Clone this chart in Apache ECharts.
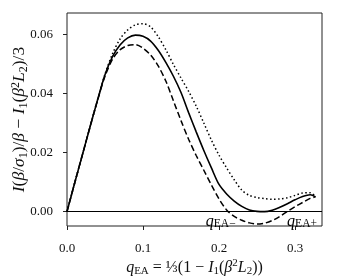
<!DOCTYPE html>
<html><head><meta charset="utf-8">
<script src="https://cdn.jsdelivr.net/npm/echarts@6/dist/echarts.min.js"></script>
<style>html,body{margin:0;padding:0;background:#fff}#c{width:338px;height:280px}</style>
</head><body><div id="c"></div>
<script>
// q_EA grid (x values)
const qGrid = [0,0.01,0.02,0.03,0.04,0.05,0.06,0.07,0.08,0.09,0.10,0.11,0.12,0.13,0.14,0.15,0.16,0.17,0.18,0.19,0.20,0.21,0.22,0.23,0.24,0.25,0.26,0.27,0.28,0.29,0.30,0.31,0.32,0.327];
const solid  = [0,0.0096,0.0190,0.0284,0.0376,0.0463,0.0525,0.0565,0.0588,0.0597,0.0593,0.0577,0.0546,0.0505,0.0458,0.0403,0.0335,0.0270,0.0207,0.0148,0.0092,0.0060,0.0036,0.0018,0.0006,0.0001,0.0000,0.0005,0.0015,0.0027,0.0040,0.0051,0.0057,0.0050];
const dotted = [0,0.0096,0.0190,0.0284,0.0377,0.0465,0.0535,0.0585,0.0615,0.0632,0.0636,0.0625,0.0592,0.0548,0.0498,0.0452,0.0407,0.0357,0.0300,0.0242,0.0191,0.0148,0.0108,0.0073,0.0055,0.0048,0.0044,0.0042,0.0043,0.0047,0.0055,0.0063,0.0064,0.0052];
const dashed = [0,0.0096,0.0190,0.0284,0.0375,0.0458,0.0516,0.0548,0.0562,0.0565,0.0553,0.0530,0.0493,0.0442,0.0375,0.0308,0.0245,0.0190,0.0140,0.0090,0.0043,0.0006,-0.0016,-0.0029,-0.0038,-0.0042,-0.0039,-0.0030,-0.0016,0.0001,0.0017,0.0031,0.0045,0.0050];
const xTicks = [0, 0.1, 0.2, 0.3];
const yTicks = [0, 0.02, 0.04, 0.06];
const annotations = [
  {sign: '−', q: 0.2225, v: -0.0034},
  {sign: '+', q: 0.3295, v: -0.0034}
];

const F = 'Liberation Serif';
const C = '#111';
const pairs = arr => qGrid.map((q, i) => [q, arr[i]]);

const rich = (big, small) => ({
  n:   {fontFamily: F, fontSize: big, color: C, lineHeight: big + 3},
  i:   {fontFamily: F, fontSize: big, fontStyle: 'italic', color: C, lineHeight: big + 3},
  sub: {fontFamily: F, fontSize: small, color: C, lineHeight: small, verticalAlign: 'bottom'},
  sup: {fontFamily: F, fontSize: small, color: C, lineHeight: small + 3, verticalAlign: 'top'}
});

const chart = echarts.init(document.getElementById('c'), null, {renderer: 'canvas'});
chart.setOption({
  animation: false,
  backgroundColor: '#fff',
  grid: {left: 67, right: 16, top: 13, bottom: 54, outerBoundsMode: 'none', containLabel: false,
    show: true, borderColor: '#222', borderWidth: 1, backgroundColor: 'transparent'},
  xAxis: {
    type: 'value', min: 0, max: 0.3355,
    axisLine: {show: false, onZero: false},
    axisTick: {show: true, length: 4, customValues: xTicks, lineStyle: {color: '#222', width: 1}},
    axisLabel: {customValues: xTicks, formatter: v => v.toFixed(1), margin: 16, fontFamily: F, fontSize: 13, color: C},
    splitLine: {show: false},
    name: '{i|q}{sub|EA}{n| = ⅓(1 − }{i|I}{sub|1}{n|(}{i|β}{sup|2}{i|L}{sub|2}{n|))}',
    nameLocation: 'middle', nameGap: 32, nameMoveOverlap: false,
    nameTextStyle: {rich: rich(16, 11)}
  },
  yAxis: {
    type: 'value', min: -0.00485, max: 0.0672,
    axisLine: {show: false, onZero: false},
    axisTick: {show: true, length: 4, customValues: yTicks, lineStyle: {color: '#222', width: 1}},
    axisLabel: {customValues: yTicks, formatter: v => v.toFixed(2), margin: 14, fontFamily: F, fontSize: 13, color: C},
    splitLine: {show: false},
    name: '{i|I}{n|(}{i|β}{n|/}{i|σ}{sub|1}{n|)/}{i|β}{n| − }{i|I}{sub|1}{n|(}{i|β}{sup|2}{i|L}{sub|2}{n|)/3}',
    nameLocation: 'middle', nameGap: 37, nameRotate: 90, nameMoveOverlap: false,
    nameTextStyle: {rich: rich(17.5, 12)}
  },
  series: [
    {
      type: 'line', data: pairs(solid), showSymbol: false, smooth: 0.3,
      lineStyle: {color: '#000', width: 1.6, type: 'solid'},
      markLine: {silent: true, symbol: 'none', label: {show: false},
        lineStyle: {color: '#000', width: 1, type: 'solid'}, data: [{yAxis: 0}]},
      markPoint: {
        silent: true, symbol: 'circle', symbolSize: 1,
        itemStyle: {color: 'rgba(0,0,0,0)'},
        data: annotations.map(a => ({coord: [a.q, a.v], sign: a.sign})),
        label: {
          show: true, position: 'left', distance: 0, color: '#000',
          formatter: p => '{i|q}{sub|EA' + p.data.sign + '}',
          rich: {
            i: {fontFamily: F, fontSize: 16, fontStyle: 'italic', color: '#000', lineHeight: 16},
            sub: {fontFamily: F, fontSize: 11.5, color: '#000', lineHeight: 11, verticalAlign: 'bottom'}
          }
        }
      },
      z: 3
    },
    {
      type: 'line', data: pairs(dotted), showSymbol: false, smooth: 0.3,
      lineStyle: {color: '#000', width: 1.5, type: [1.5, 2.5]}, z: 3
    },
    {
      type: 'line', data: pairs(dashed), showSymbol: false, smooth: 0.3,
      lineStyle: {color: '#000', width: 1.5, type: [6, 3]}, z: 3
    }
  ]
});
</script>
</body></html>
